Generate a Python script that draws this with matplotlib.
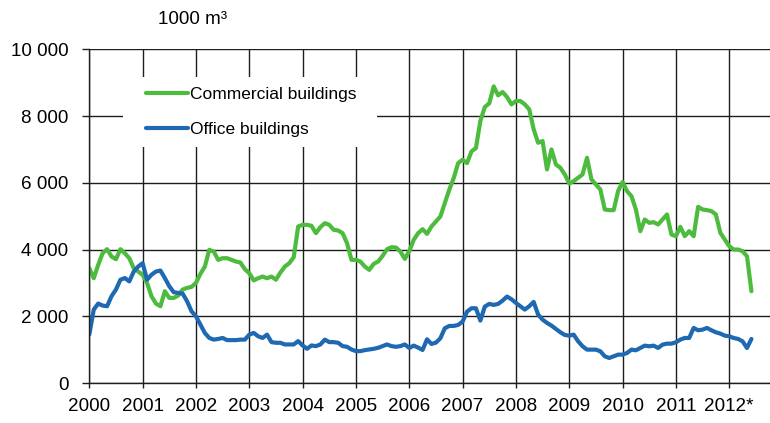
import numpy as np
import matplotlib
matplotlib.use("Agg")
import matplotlib.pyplot as plt
from matplotlib.patches import Rectangle
from matplotlib.ticker import FuncFormatter

plt.rcParams['font.family'] = ['Liberation Sans', 'DejaVu Sans']

# monthly values, 1000 m3, Jan 2000 - Jun 2012
commercial = [
    3440, 3140, 3540, 3890, 4010, 3790, 3710, 4010, 3890, 3740, 3440, 3340,  # 2000
    3240, 2995, 2600, 2380, 2300, 2750, 2550, 2550, 2620, 2800, 2850, 2880,  # 2001
    3000, 3270, 3490, 3990, 3940, 3690, 3740, 3740, 3690, 3640, 3610, 3410,  # 2002
    3290, 3075, 3140, 3190, 3140, 3190, 3095, 3310, 3490, 3590, 3770, 4690,  # 2003
    4740, 4740, 4710, 4490, 4670, 4790, 4740, 4590, 4570, 4490, 4190, 3690,  # 2004
    3690, 3640, 3490, 3390, 3570, 3640, 3810, 4010, 4070, 4060, 3940, 3720,  # 2005
    3950, 4290, 4490, 4610, 4470, 4690, 4840, 4990, 5390, 5790, 6140, 6590,  # 2006
    6690, 6590, 6940, 7040, 7850, 8270, 8380, 8890, 8620, 8720, 8570, 8350,  # 2007
    8450, 8450, 8350, 8200, 7600, 7200, 7250, 6400, 7000, 6550, 6450, 6250,  # 2008
    5980, 6050, 6150, 6250, 6750, 6100, 5950, 5800, 5200, 5180, 5180, 5750,  # 2009
    6020, 5750, 5600, 5200, 4550, 4900, 4800, 4820, 4750, 4900, 5050, 4450,  # 2010
    4400, 4680, 4400, 4550, 4400, 5280, 5200, 5180, 5150, 5050, 4500, 4300,  # 2011
    4100, 4000, 4000, 3950, 3800, 2750,  # 2012
]
office = [
    1450, 2200, 2380, 2320, 2300, 2600, 2800, 3095, 3145, 3045, 3340, 3490,  # 2000
    3590, 3095, 3245, 3340, 3370, 3145, 2900, 2720, 2700, 2680, 2450, 2150,  # 2001
    2000, 1750, 1500, 1350, 1300, 1320, 1350, 1285, 1285, 1285, 1300, 1300,  # 2002
    1450, 1500, 1400, 1350, 1450, 1225, 1205, 1205, 1155, 1155, 1155, 1255,  # 2003
    1125, 1025, 1125, 1105, 1155, 1300, 1225, 1225, 1205, 1105, 1085, 1005,  # 2004
    955, 955, 985, 1005, 1025, 1055, 1105, 1155, 1105, 1085, 1105, 1155,  # 2005
    1050, 1120, 1060, 990, 1310, 1170, 1210, 1340, 1640, 1710, 1710, 1740,  # 2006
    1840, 2140, 2240, 2240, 1870, 2290, 2370, 2340, 2370, 2470, 2590, 2510,  # 2007
    2400, 2300, 2200, 2300, 2430, 2050, 1900, 1800, 1720, 1620, 1520, 1440,  # 2008
    1420, 1450, 1250, 1100, 1000, 1000, 1000, 950, 800, 750, 800, 850,  # 2009
    850, 900, 1000, 980, 1050, 1120, 1100, 1120, 1050, 1150, 1180, 1180,  # 2010
    1220, 1300, 1350, 1350, 1650, 1580, 1600, 1650, 1580, 1520, 1480, 1420,  # 2011
    1400, 1350, 1320, 1250, 1050, 1320,  # 2012
]
years = list(range(2000, 2013))
year_labels = [str(y) for y in years[:-1]] + ["2012*"]
labels = ["Commercial buildings", "Office buildings"]

months = 2000 + np.arange(len(commercial)) / 12

fig = plt.figure(figsize=(7.7, 4.23), dpi=100)
ax = fig.add_axes([89.3 / 770, 40 / 423, 680.7 / 770, 333.7 / 423])

ax.plot(months, commercial, color='#4dbb3d', lw=3.0, label=labels[0], solid_capstyle='round')
ax.plot(months, office, color='#1f69b3', lw=3.0, label=labels[1], solid_capstyle='round')

ax.set_xlim(2000, 2012.765)
ax.set_ylim(0, 10000)
ax.set_xticks(years)
ax.set_xticklabels(year_labels)
ax.set_yticks(range(0, 10001, 2000))
ax.yaxis.set_major_formatter(FuncFormatter(lambda v, p: f"{int(v):,}".replace(",", " ")))

ax.set_axisbelow(True)
ax.grid(True, color='#1e1e1e', lw=1.0)
for s in ['top', 'right']:
    ax.spines[s].set_visible(False)
for s in ['left', 'bottom']:
    ax.spines[s].set_color('#1e1e1e')
    ax.spines[s].set_linewidth(1.0)

ax.tick_params(axis='y', length=5, width=1.0, pad=10, labelsize=13.6, color='#1e1e1e')
ax.tick_params(axis='x', length=3.7, width=1.0, pad=7, labelsize=13.6, color='#1e1e1e')

# white box behind the legend hides the grid
ax.add_patch(Rectangle((0.0495, 0.707), 0.373, 0.21, transform=ax.transAxes,
                       facecolor='white', edgecolor='none', zorder=1))
ax.legend(loc='upper left', bbox_to_anchor=(0.0833, 0.886), frameon=False,
          borderpad=0, borderaxespad=0, handlelength=2.4, handletextpad=0.12,
          labelspacing=1.1, fontsize=12.5)

fig.text(193 / 770, 1 - 20 / 423, "1000 m³", ha='center', va='center', fontsize=13.6)

fig.savefig("out.png", dpi=100)
